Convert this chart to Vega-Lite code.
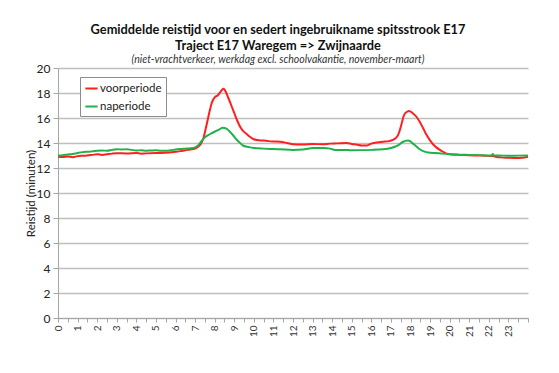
{
  "$schema": "https://vega.github.io/schema/vega-lite/v6.json",
  "width": 470,
  "height": 250,
  "autosize": {"type": "none"},
  "padding": {"left": 58, "top": 68, "right": 31, "bottom": 55},
  "background": "white",
  "title": {
    "text": ["Gemiddelde reistijd voor en sedert ingebruikname spitsstrook E17", "Traject E17 Waregem => Zwijnaarde"],
    "subtitle": "(niet-vrachtverkeer,  werkdag excl. schoolvakantie, november-maart)",
    "font": "Lato", "fontSize": 12.8, "fontWeight": "bold", "color": "#111111",
    "lineHeight": 16,
    "subtitleFont": "Lato", "subtitleFontSize": 10.5, "subtitleFontStyle": "italic", "subtitleColor": "#333333",
    "subtitlePadding": 2,
    "anchor": "middle", "dx": -15, "offset": -3
  },
  "data": {"values": [
    {"h":0,"v":12.9,"s":"voorperiode"},{"h":0.25,"v":12.88,"s":"voorperiode"},{"h":0.5,"v":12.92,"s":"voorperiode"},{"h":0.75,"v":12.87,"s":"voorperiode"},
    {"h":1,"v":12.95,"s":"voorperiode"},{"h":1.25,"v":12.98,"s":"voorperiode"},{"h":1.5,"v":13.0,"s":"voorperiode"},{"h":1.75,"v":13.05,"s":"voorperiode"},
    {"h":2,"v":13.1,"s":"voorperiode"},{"h":2.25,"v":13.05,"s":"voorperiode"},{"h":2.5,"v":13.1,"s":"voorperiode"},{"h":2.75,"v":13.15,"s":"voorperiode"},
    {"h":3,"v":13.18,"s":"voorperiode"},{"h":3.5,"v":13.17,"s":"voorperiode"},{"h":4,"v":13.2,"s":"voorperiode"},{"h":4.25,"v":13.15,"s":"voorperiode"},
    {"h":4.5,"v":13.17,"s":"voorperiode"},{"h":5,"v":13.2,"s":"voorperiode"},{"h":5.5,"v":13.22,"s":"voorperiode"},{"h":6,"v":13.3,"s":"voorperiode"},
    {"h":6.25,"v":13.35,"s":"voorperiode"},{"h":6.5,"v":13.42,"s":"voorperiode"},{"h":6.75,"v":13.48,"s":"voorperiode"},{"h":7,"v":13.55,"s":"voorperiode"},
    {"h":7.15,"v":13.7,"s":"voorperiode"},{"h":7.3,"v":13.95,"s":"voorperiode"},{"h":7.43,"v":14.4,"s":"voorperiode"},{"h":7.55,"v":15.2,"s":"voorperiode"},
    {"h":7.65,"v":15.9,"s":"voorperiode"},{"h":7.75,"v":16.6,"s":"voorperiode"},{"h":7.85,"v":17.2,"s":"voorperiode"},{"h":8,"v":17.65,"s":"voorperiode"},
    {"h":8.15,"v":17.8,"s":"voorperiode"},{"h":8.3,"v":18.1,"s":"voorperiode"},{"h":8.45,"v":18.35,"s":"voorperiode"},{"h":8.55,"v":18.15,"s":"voorperiode"},
    {"h":8.7,"v":17.6,"s":"voorperiode"},{"h":8.85,"v":17.0,"s":"voorperiode"},{"h":9,"v":16.4,"s":"voorperiode"},{"h":9.15,"v":15.8,"s":"voorperiode"},
    {"h":9.3,"v":15.3,"s":"voorperiode"},{"h":9.46,"v":14.95,"s":"voorperiode"},{"h":9.65,"v":14.7,"s":"voorperiode"},{"h":9.8,"v":14.5,"s":"voorperiode"},
    {"h":10,"v":14.3,"s":"voorperiode"},{"h":10.25,"v":14.22,"s":"voorperiode"},{"h":10.5,"v":14.2,"s":"voorperiode"},{"h":10.75,"v":14.15,"s":"voorperiode"},
    {"h":11,"v":14.12,"s":"voorperiode"},{"h":11.34,"v":14.1,"s":"voorperiode"},{"h":11.7,"v":14.0,"s":"voorperiode"},{"h":12,"v":13.9,"s":"voorperiode"},
    {"h":12.5,"v":13.88,"s":"voorperiode"},{"h":13,"v":13.92,"s":"voorperiode"},{"h":13.5,"v":13.9,"s":"voorperiode"},{"h":13.9,"v":13.95,"s":"voorperiode"},
    {"h":14.25,"v":13.97,"s":"voorperiode"},{"h":14.75,"v":14.0,"s":"voorperiode"},{"h":15,"v":13.92,"s":"voorperiode"},{"h":15.26,"v":13.87,"s":"voorperiode"},
    {"h":15.5,"v":13.8,"s":"voorperiode"},{"h":15.77,"v":13.8,"s":"voorperiode"},{"h":16,"v":13.95,"s":"voorperiode"},{"h":16.3,"v":14.05,"s":"voorperiode"},
    {"h":16.6,"v":14.1,"s":"voorperiode"},{"h":16.9,"v":14.15,"s":"voorperiode"},{"h":17.1,"v":14.25,"s":"voorperiode"},{"h":17.25,"v":14.4,"s":"voorperiode"},
    {"h":17.37,"v":14.65,"s":"voorperiode"},{"h":17.45,"v":15.0,"s":"voorperiode"},{"h":17.54,"v":15.5,"s":"voorperiode"},{"h":17.62,"v":16.0,"s":"voorperiode"},
    {"h":17.71,"v":16.35,"s":"voorperiode"},{"h":17.82,"v":16.5,"s":"voorperiode"},{"h":17.93,"v":16.57,"s":"voorperiode"},{"h":18.1,"v":16.4,"s":"voorperiode"},
    {"h":18.3,"v":16.1,"s":"voorperiode"},{"h":18.47,"v":15.7,"s":"voorperiode"},{"h":18.64,"v":15.2,"s":"voorperiode"},{"h":18.8,"v":14.7,"s":"voorperiode"},
    {"h":18.98,"v":14.25,"s":"voorperiode"},{"h":19.15,"v":13.9,"s":"voorperiode"},{"h":19.32,"v":13.65,"s":"voorperiode"},{"h":19.5,"v":13.45,"s":"voorperiode"},
    {"h":19.66,"v":13.3,"s":"voorperiode"},{"h":19.85,"v":13.15,"s":"voorperiode"},{"h":20,"v":13.1,"s":"voorperiode"},{"h":20.5,"v":13.05,"s":"voorperiode"},
    {"h":21,"v":13.02,"s":"voorperiode"},{"h":21.5,"v":13.0,"s":"voorperiode"},{"h":22,"v":12.97,"s":"voorperiode"},{"h":22.2,"v":12.95,"s":"voorperiode"},
    {"h":22.4,"v":12.88,"s":"voorperiode"},{"h":22.6,"v":12.85,"s":"voorperiode"},{"h":23,"v":12.82,"s":"voorperiode"},{"h":23.4,"v":12.8,"s":"voorperiode"},
    {"h":23.7,"v":12.82,"s":"voorperiode"},{"h":24,"v":12.9,"s":"voorperiode"},
    {"h":0,"v":13.0,"s":"naperiode"},{"h":0.25,"v":13.02,"s":"naperiode"},{"h":0.5,"v":13.08,"s":"naperiode"},{"h":0.75,"v":13.12,"s":"naperiode"},
    {"h":1,"v":13.2,"s":"naperiode"},{"h":1.25,"v":13.27,"s":"naperiode"},{"h":1.5,"v":13.3,"s":"naperiode"},{"h":1.75,"v":13.33,"s":"naperiode"},
    {"h":2,"v":13.38,"s":"naperiode"},{"h":2.25,"v":13.4,"s":"naperiode"},{"h":2.5,"v":13.38,"s":"naperiode"},{"h":2.75,"v":13.45,"s":"naperiode"},
    {"h":3,"v":13.5,"s":"naperiode"},{"h":3.25,"v":13.48,"s":"naperiode"},{"h":3.5,"v":13.5,"s":"naperiode"},{"h":3.75,"v":13.45,"s":"naperiode"},
    {"h":4,"v":13.4,"s":"naperiode"},{"h":4.25,"v":13.42,"s":"naperiode"},{"h":4.5,"v":13.38,"s":"naperiode"},{"h":4.75,"v":13.4,"s":"naperiode"},
    {"h":5,"v":13.42,"s":"naperiode"},{"h":5.25,"v":13.38,"s":"naperiode"},{"h":5.5,"v":13.38,"s":"naperiode"},{"h":5.75,"v":13.42,"s":"naperiode"},
    {"h":6,"v":13.48,"s":"naperiode"},{"h":6.25,"v":13.52,"s":"naperiode"},{"h":6.5,"v":13.55,"s":"naperiode"},{"h":6.75,"v":13.58,"s":"naperiode"},
    {"h":7,"v":13.65,"s":"naperiode"},{"h":7.15,"v":13.8,"s":"naperiode"},{"h":7.3,"v":14.1,"s":"naperiode"},{"h":7.5,"v":14.45,"s":"naperiode"},
    {"h":7.75,"v":14.7,"s":"naperiode"},{"h":8,"v":14.9,"s":"naperiode"},{"h":8.2,"v":15.05,"s":"naperiode"},{"h":8.42,"v":15.22,"s":"naperiode"},
    {"h":8.6,"v":15.15,"s":"naperiode"},{"h":8.78,"v":14.9,"s":"naperiode"},{"h":8.95,"v":14.6,"s":"naperiode"},{"h":9.1,"v":14.3,"s":"naperiode"},
    {"h":9.3,"v":14.0,"s":"naperiode"},{"h":9.46,"v":13.78,"s":"naperiode"},{"h":9.65,"v":13.7,"s":"naperiode"},{"h":9.8,"v":13.65,"s":"naperiode"},
    {"h":10,"v":13.6,"s":"naperiode"},{"h":10.5,"v":13.55,"s":"naperiode"},{"h":11,"v":13.52,"s":"naperiode"},{"h":11.34,"v":13.5,"s":"naperiode"},
    {"h":12,"v":13.45,"s":"naperiode"},{"h":12.5,"v":13.48,"s":"naperiode"},{"h":13.04,"v":13.6,"s":"naperiode"},{"h":13.55,"v":13.6,"s":"naperiode"},
    {"h":13.9,"v":13.55,"s":"naperiode"},{"h":14.15,"v":13.45,"s":"naperiode"},{"h":14.6,"v":13.45,"s":"naperiode"},{"h":15,"v":13.42,"s":"naperiode"},
    {"h":15.5,"v":13.43,"s":"naperiode"},{"h":16,"v":13.45,"s":"naperiode"},{"h":16.6,"v":13.5,"s":"naperiode"},{"h":17,"v":13.6,"s":"naperiode"},
    {"h":17.2,"v":13.7,"s":"naperiode"},{"h":17.4,"v":13.85,"s":"naperiode"},{"h":17.6,"v":14.08,"s":"naperiode"},{"h":17.88,"v":14.2,"s":"naperiode"},
    {"h":18,"v":14.12,"s":"naperiode"},{"h":18.13,"v":13.95,"s":"naperiode"},{"h":18.3,"v":13.72,"s":"naperiode"},{"h":18.47,"v":13.5,"s":"naperiode"},
    {"h":18.65,"v":13.35,"s":"naperiode"},{"h":18.81,"v":13.27,"s":"naperiode"},{"h":19,"v":13.22,"s":"naperiode"},{"h":19.3,"v":13.2,"s":"naperiode"},
    {"h":19.6,"v":13.15,"s":"naperiode"},{"h":20,"v":13.1,"s":"naperiode"},{"h":20.5,"v":13.07,"s":"naperiode"},{"h":21,"v":13.05,"s":"naperiode"},
    {"h":21.5,"v":13.03,"s":"naperiode"},{"h":22,"v":13.0,"s":"naperiode"},{"h":22.15,"v":13.02,"s":"naperiode"},{"h":22.2,"v":13.12,"s":"naperiode"},
    {"h":22.25,"v":13.0,"s":"naperiode"},{"h":22.5,"v":13.0,"s":"naperiode"},{"h":23,"v":12.98,"s":"naperiode"},{"h":23.5,"v":12.99,"s":"naperiode"},
    {"h":24,"v":13.0,"s":"naperiode"}
  ]},
  "mark": {"type": "line", "strokeWidth": 2, "interpolate": "monotone"},
  "encoding": {
    "x": {
      "field": "h", "type": "quantitative",
      "scale": {"domain": [0, 24], "nice": false, "zero": false},
      "axis": {
        "title": null,
        "values": [0,0.5,1,1.5,2,2.5,3,3.5,4,4.5,5,5.5,6,6.5,7,7.5,8,8.5,9,9.5,10,10.5,11,11.5,12,12.5,13,13.5,14,14.5,15,15.5,16,16.5,17,17.5,18,18.5,19,19.5,20,20.5,21,21.5,22,22.5,23,23.5,24],
        "labelExpr": "datum.value % 1 == 0 && datum.value < 24 ? datum.value : ''",
        "labelAngle": -90,
        "labelFont": "Lato", "labelFontSize": 10, "labelColor": "#333333",
        "labelPadding": 3,
        "labelFlush": false, "labelOverlap": false,
        "domainColor": "#a6a6a6", "domainWidth": 1,
        "tickColor": "#a6a6a6", "tickSize": 4,
        "grid": false
      }
    },
    "y": {
      "field": "v", "type": "quantitative",
      "scale": {"domain": [0, 20], "nice": false},
      "axis": {
        "title": "Reistijd (minuten)",
        "titleFont": "Lato", "titleFontSize": 11.5, "titleFontWeight": "normal", "titleColor": "#222222",
        "titlePadding": 0,
        "values": [0,2,4,6,8,10,12,14,16,18,20],
        "labelFont": "Lato", "labelFontSize": 12, "labelColor": "#222222",
        "labelPadding": 3,
        "domainColor": "#a6a6a6", "tickColor": "#a6a6a6", "tickSize": 5,
        "grid": true, "gridColor": "#bfbfbf", "gridWidth": 1.5
      }
    },
    "color": {
      "field": "s", "type": "nominal",
      "scale": {"domain": ["voorperiode", "naperiode"], "range": ["#ff1f1f", "#1fb24a"]},
      "legend": {
        "title": null,
        "orient": "none", "legendX": 22, "legendY": 9,
        "direction": "vertical",
        "symbolType": "stroke", "symbolSize": 150, "symbolStrokeWidth": 2,
        "labelFont": "Lato", "labelFontSize": 11.5, "labelColor": "#222222",
        "labelOffset": 1,
        "rowPadding": 5,
        "padding": 4,
        "fillColor": "white", "strokeColor": "#8c8c8c"
      }
    },
    "order": {"field": "s", "type": "nominal", "sort": "descending"}
  },
  "config": {"view": {"stroke": null}}
}
